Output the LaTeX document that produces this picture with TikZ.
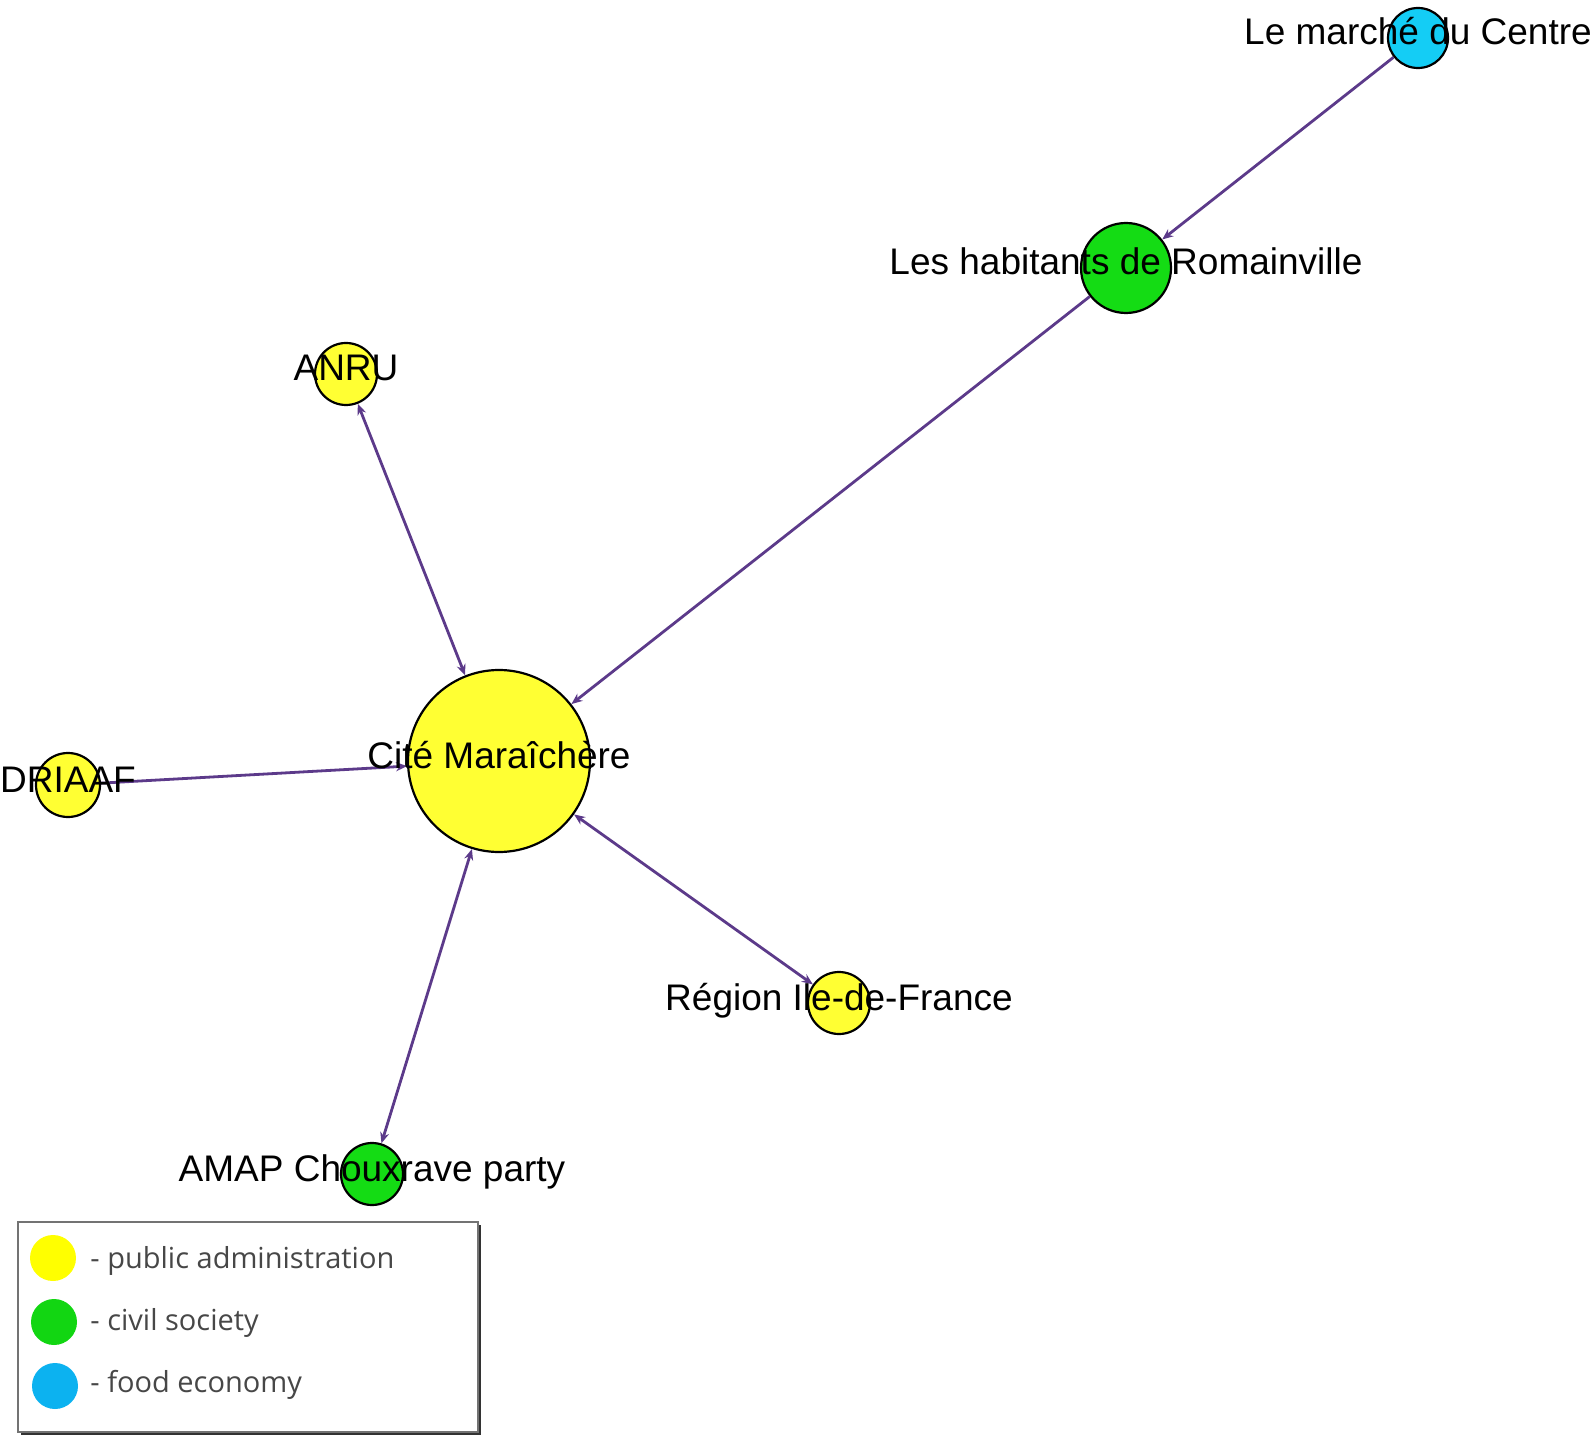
\documentclass[tikz,border=0pt]{standalone}
\usepackage{fontspec}
\setmainfont{Liberation Sans}
\newfontfamily\legendfont{Open Sans}
\usetikzlibrary{arrows.meta}
\usetikzlibrary{positioning}

\definecolor{admin}{RGB}{255,255,51}
\definecolor{civil}{RGB}{20,220,20}
\definecolor{food}{RGB}{20,205,245}
\definecolor{link}{RGB}{92,58,138}
\definecolor{legadmin}{RGB}{255,255,0}
\definecolor{legcivil}{RGB}{18,214,18}
\definecolor{legfood}{RGB}{12,178,240}

\begin{document}
\begin{tikzpicture}[x=0.5pt,y=-0.5pt,
	actor/.style={circle,draw=black,line width=1.1pt,inner sep=0pt},
	lbl/.style={anchor=base,yshift=-3.5pt,font=\fontsize{18.5}{20}\selectfont,inner sep=0pt},
	edge/.style={draw=link,line width=1.4pt,>={Stealth[length=5.5pt,width=4.5pt]}},
	legdot/.style={circle,inner sep=0pt,minimum size=23pt},
	legtxt/.style={anchor=base west,inner sep=0pt,text=black!72,font=\legendfont\fontsize{14.5}{16}\selectfont}]
	\useasboundingbox (0,0) rectangle (1595,1443);
	% actors
	\node [actor,fill=admin,minimum size=91pt] (cite) at (499,761) {};
	\node [actor,fill=food,minimum size=30pt] (marche) at (1418,38) {};
	\node [actor,fill=civil,minimum size=45pt] (romain) at (1126,268) {};
	\node [actor,fill=admin,minimum size=31pt] (anru) at (346,374) {};
	\node [actor,fill=admin,minimum size=32pt] (driaaf) at (68,785) {};
	\node [actor,fill=admin,minimum size=31pt] (region) at (839,1003) {};
	\node [actor,fill=civil,minimum size=31pt] (amap) at (372,1174) {};
	% links
	\draw [edge,->] (marche) -- (romain);
	\draw [edge,->] (romain) -- (cite);
	\draw [edge,<->] (anru) -- (cite);
	\draw [edge,->] (driaaf) -- (cite);
	\draw [edge,<->] (cite) -- (region);
	\draw [edge,<->] (cite) -- (amap);
	% names
	\node [lbl] (cite-t) at (cite) {Cité Maraîchère};
	\node [lbl] (marche-t) at (marche) {Le marché du Centre};
	\node [lbl] (romain-t) at (romain) {Les habitants de Romainville};
	\node [lbl] (anru-t) at (anru) {ANRU};
	\node [lbl] (driaaf-t) at (driaaf) {DRIAAF};
	\node [lbl] (region-t) at (region) {Région Ile-de-France};
	\node [lbl] (amap-t) at (amap) {AMAP Chouxrave party};
	% legend
	\fill [black!80] (21,1225) rectangle (481,1435);
	\draw [fill=white,draw=black!55,line width=0.6pt] (18,1222) rectangle (478,1432);
	\node [legdot,fill=legadmin] (leg-admin) at (53,1258) {};
	\node [legdot,fill=legcivil] (leg-civil) at (54,1322) {};
	\node [legdot,fill=legfood] (leg-food) at (55,1386) {};
	\node [legtxt] (leg-admin-t) at (90,1268) {- public administration};
	\node [legtxt] (leg-civil-t) at (90,1330) {- civil society};
	\node [legtxt] (leg-food-t) at (90,1392) {- food economy};
\end{tikzpicture}
\end{document}
